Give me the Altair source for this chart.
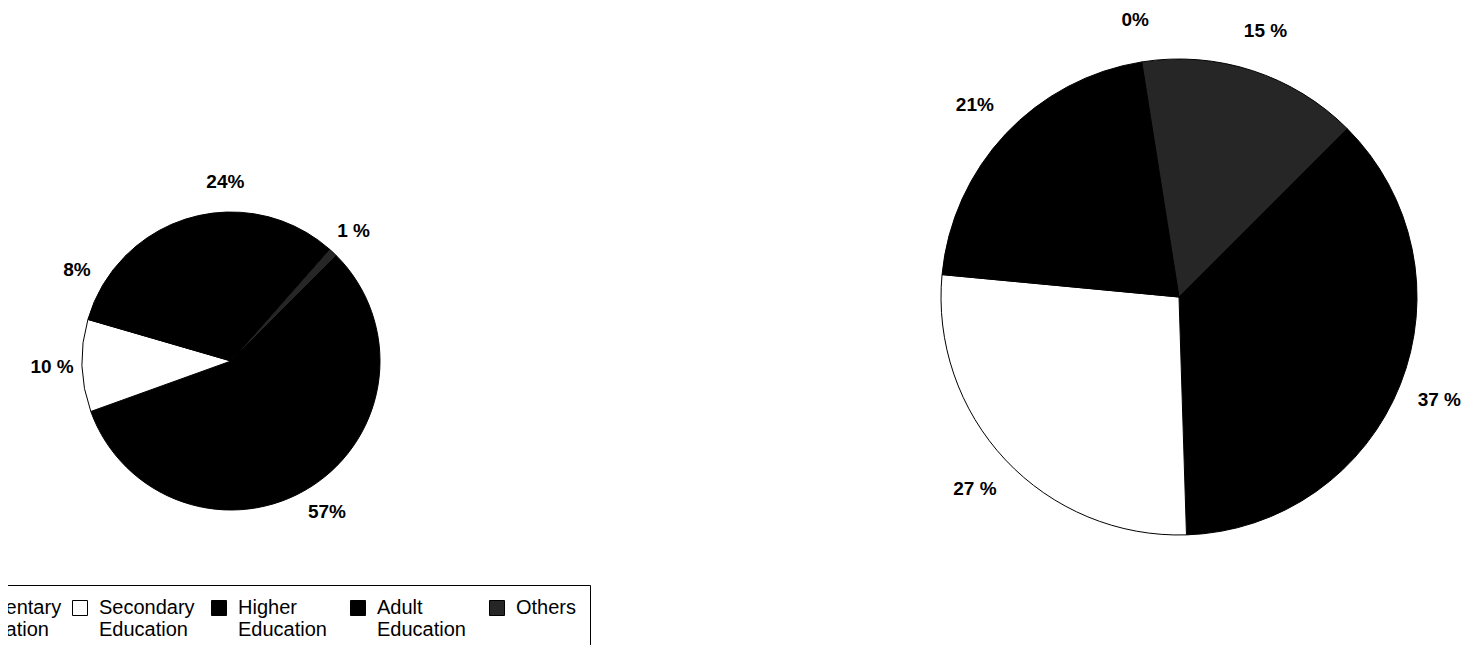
import math
import altair as alt
import pandas as pd

# ---- data ----
categories = ["Elementary Education", "Secondary Education", "Higher Education",
              "Adult Education", "Others"]
left_values = [57, 10, 8, 24, 1]
left_labels = ["57%", "10 %", "8%", "24%", "1 %"]
right_values = [37, 27, 21, 0, 15]
right_labels = ["37 %", "27 %", "21%", "0%", "15 %"]
slice_colors = ["#000000", "#ffffff", "#000000", "#000000", "#262626"]

left_df = pd.DataFrame({"category": categories, "value": left_values,
                        "label": left_labels, "idx": list(range(len(categories)))})
right_df = pd.DataFrame({"category": categories, "value": right_values,
                         "label": right_labels, "idx": list(range(len(categories)))})

start = math.radians(45)
theta_scale = alt.Scale(range=[start, start + 2 * math.pi])
color_scale = alt.Scale(domain=categories, range=slice_colors)

legend = alt.Legend(
    title=None, orient="none", legendX=-90, legendY=577,
    direction="horizontal", columns=5, gridAlign="all",
    symbolType="square", symbolSize=225, symbolStrokeColor="black",
    symbolStrokeWidth=1, labelFont="Liberation Sans", labelFontSize=20,
    labelColor="black", labelOffset=9, columnPadding=8, padding=13,
    strokeColor="black", labelBaseline="middle", labelLimit=300,
    labelExpr=("indexof(datum.label, ' ') >= 0 ? split(datum.label, ' ') : "
               "[datum.label, '']"),
)


def pie(df, cx, cy, r, label_r, show_legend):
    base = alt.Chart(df)
    arcs = base.mark_arc(radius=r, stroke="black", strokeWidth=1).encode(
        x=alt.value(cx), y=alt.value(cy),
        theta=alt.Theta("value:Q", stack=True, scale=theta_scale),
        color=alt.Color("category:N", scale=color_scale,
                        legend=legend if show_legend else None),
        order=alt.Order("idx:Q"),
    )
    labels = base.mark_text(radius=label_r, font="Liberation Sans", fontSize=19,
                            fontWeight="bold", color="black", align="center",
                            baseline="middle").encode(
        x=alt.value(cx), y=alt.value(cy),
        theta=alt.Theta("value:Q", stack=True, scale=theta_scale),
        text="label:N",
        order=alt.Order("idx:Q"),
    )
    return [arcs, labels]


layers = pie(left_df, 223, 353, 149, 179, True) + pie(right_df, 1171, 289, 238, 280, False)

chart = alt.layer(*layers).properties(
    width=1462, height=637, padding=0,
    autosize=alt.AutoSizeParams(type="none"),
).configure_view(stroke=None)

chart.save("out.html", embed_options={"renderer": "svg", "actions": False})
